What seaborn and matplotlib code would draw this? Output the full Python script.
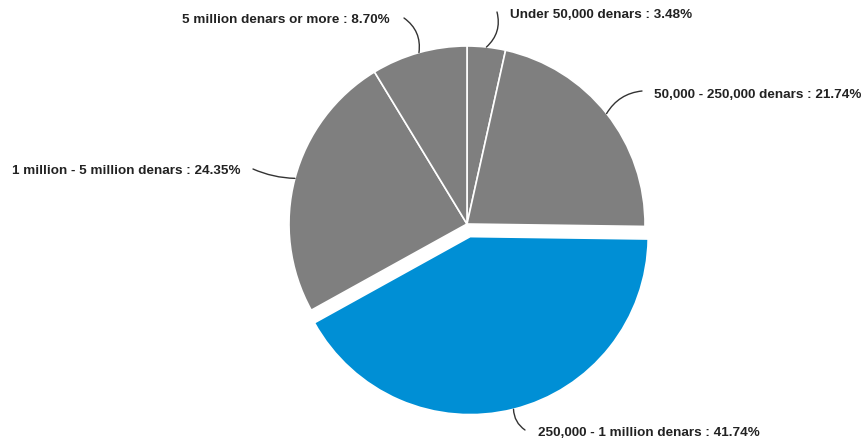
import matplotlib
matplotlib.use("Agg")
import matplotlib.pyplot as plt
import numpy as np
import seaborn as sns

sns.set_theme(style="white")
plt.rcParams["font.family"] = ["Liberation Sans", "DejaVu Sans"]

categories = [
    "Under 50,000 denars",
    "50,000 - 250,000 denars",
    "250,000 - 1 million denars",
    "1 million - 5 million denars",
    "5 million denars or more",
]
shares = [3.48, 21.74, 41.74, 24.35, 8.70]
highlight = "250,000 - 1 million denars"

W, H = 864, 443
fig = plt.figure(figsize=(W / 100, H / 100), dpi=100)
ax = fig.add_axes([0, 0, 1, 1])


def px(x, y):
    """Pixel position (origin top-left) to axes data coordinates."""
    return (x, H - y)


cx, cy = px(467, 224)
R = 178
gray = "#7f7f7f"
blue = "#008fd5"
colors = [blue if c == highlight else gray for c in categories]
# matplotlib offsets exploded wedges in data units
explode = [13 if c == highlight else 0 for c in categories]

wedges, _ = ax.pie(
    shares,
    colors=colors,
    explode=explode,
    startangle=90,
    counterclock=False,
    center=(cx, cy),
    radius=R,
    wedgeprops=dict(edgecolor="white", linewidth=1.2),
    frame=True,
)
ax.set_xlim(0, W)
ax.set_ylim(0, H)
ax.set_aspect("equal")
ax.axis("off")

# label placement: (text x, text y, horizontal alignment, connector end x, end y, curvature)
placements = [
    (510, 15, "left", 497, 12, -0.3),
    (654, 95, "left", 642, 91, 0.25),
    (538, 433, "left", 525, 430, -0.25),
    (240, 171, "right", 253, 169, 0.1),
    (390, 20, "right", 404, 18, -0.3),
]

for w, cat, val, (tx, ty, ha, ex, ey, rad) in zip(wedges, categories, shares, placements):
    mid = np.deg2rad((w.theta1 + w.theta2) / 2)
    ox, oy = w.center
    ax0 = ox + R * np.cos(mid)
    ay0 = oy + R * np.sin(mid)
    ax.annotate(
        "",
        xy=(ax0, ay0),
        xytext=px(ex, ey),
        arrowprops=dict(arrowstyle="-", color="#333333", lw=1.0,
                        connectionstyle=f"arc3,rad={rad}", shrinkA=0, shrinkB=0),
    )
    ax.text(*px(tx, ty), f"{cat} : {val:.2f}%", ha=ha, va="center",
            fontsize=9.7, fontweight="bold", color="#222222")

fig.savefig("out.png", dpi=100, facecolor="white")
